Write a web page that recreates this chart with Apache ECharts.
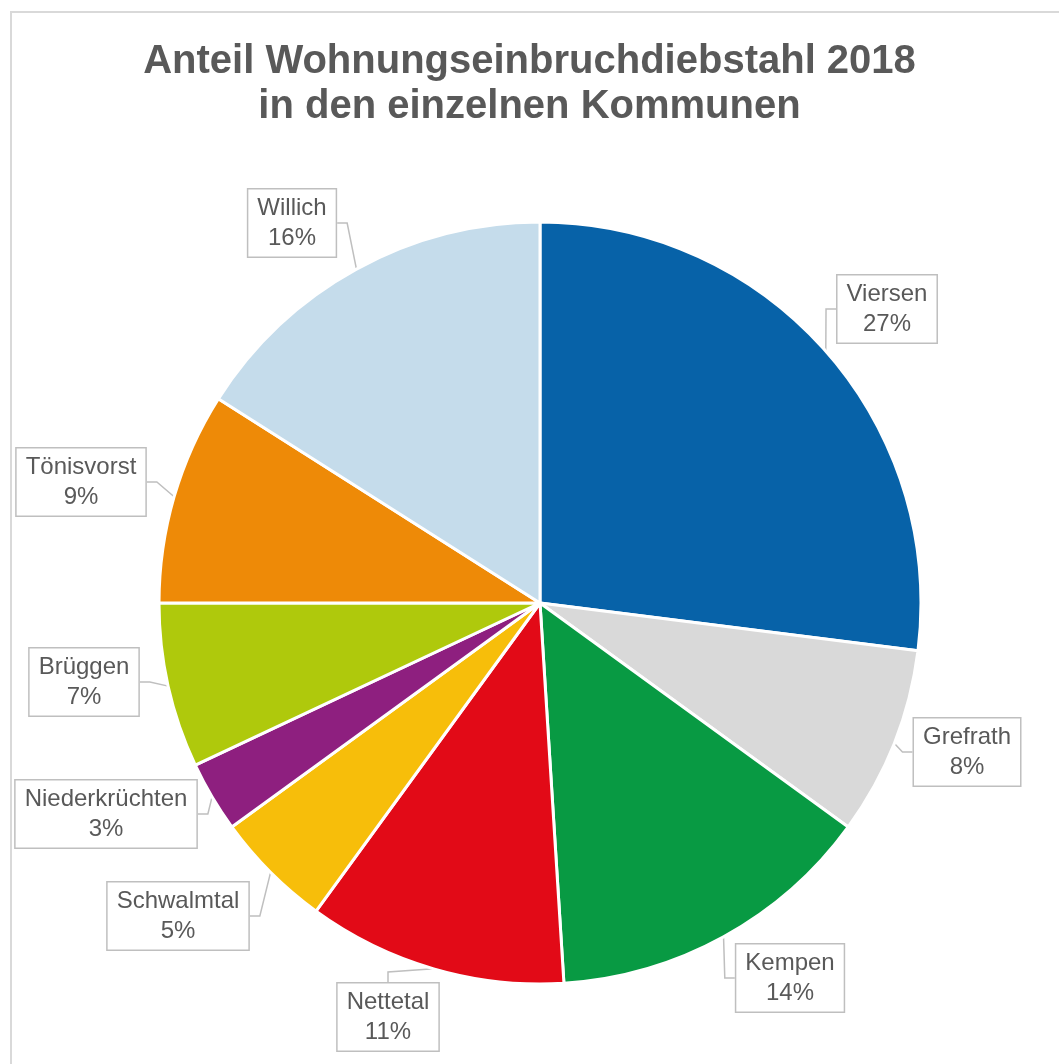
<!DOCTYPE html>
<html><head><meta charset="utf-8">
<script src="https://cdn.jsdelivr.net/npm/echarts@6/dist/echarts.min.js"></script>
<style>html,body{margin:0;padding:0;background:#fff}#c{width:1059px;height:1064px}</style>
</head><body><div id="c"></div>
<script>
const categories = ['Viersen','Grefrath','Kempen','Nettetal','Schwalmtal','Niederkrüchten','Brüggen','Tönisvorst','Willich'];
const shares = [27, 8, 14, 11, 5, 3, 7, 9, 16];
const colors = ['#0762A8','#D9D9D9','#089A43','#E20A17','#F7BE0A','#8E1F7F','#AFC90C','#EE8A07','#C5DCEB'];
// label box centres, offsets from pie centre
const labelOffsets = [[347,-294],[427,149],[250,375],[-152,414],[-362,313],[-434,211],[-456,79],[-459,-121],[-248,-380]];

const CX = 540, CY = 603;
const chart = echarts.init(document.getElementById('c'));
chart.setOption({
  animation: false,
  backgroundColor: '#fff',
  title: {
    text: 'Anteil Wohnungseinbruchdiebstahl 2018\nin den einzelnen Kommunen',
    left: 'center', top: 34,
    textStyle: { fontFamily: 'Liberation Sans', fontWeight: 'bold', fontSize: 40, color: '#595959', lineHeight: 45 }
  },
  graphic: [{ type: 'rect', shape: { x: 11, y: 12, width: 1060, height: 1070 }, style: { fill: 'none', stroke: '#d9d9d9', lineWidth: 2 }, silent: true }],
  series: [{
    type: 'pie',
    center: [CX, CY],
    radius: [0, 381],
    startAngle: 90,
    clockwise: true,
    avoidLabelOverlap: false,
    itemStyle: { borderColor: '#fff', borderWidth: 3 },
    label: {
      show: true,
      position: 'outside',
      formatter: p => p.name + '\n' + Math.round(p.percent) + '%',
      fontFamily: 'Liberation Sans', fontSize: 24, color: '#595959', lineHeight: 30,
      align: 'center',
      backgroundColor: '#fff', borderColor: '#bfbfbf', borderWidth: 1.5,
      padding: [4, 9, 3, 9]
    },
    labelLine: { show: true, length: 10, length2: 10, lineStyle: { color: '#bfbfbf', width: 1.5 } },
    labelLayout: function (params) {
      const o = labelOffsets[params.dataIndex];
      return { x: CX + o[0], y: CY + o[1], align: 'center', verticalAlign: 'middle' };
    },
    data: categories.map((n, i) => ({
      name: n, value: shares[i],
      itemStyle: { color: colors[i] }
    }))
  }]
});
</script></body></html>
